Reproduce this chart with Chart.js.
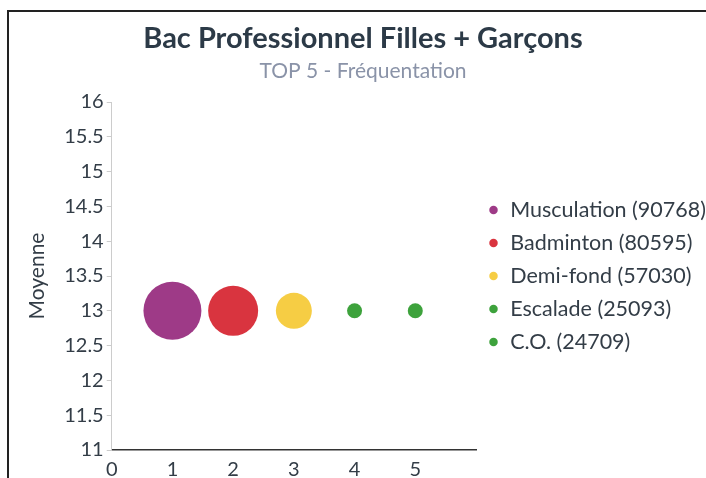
<!DOCTYPE html>
<html lang="fr">
<head>
  <meta charset="UTF-8" />
  <title>Bac Professionnel Filles + Garçons</title>
  <script src="https://cdn.jsdelivr.net/npm/chart.js"></script>
  <style>
    html, body {
      margin: 0;
      padding: 0;
      background: #fff;
      overflow: hidden;
    }
    #cadre {
      position: absolute;
      left: 7px;
      top: 10px;
      width: 710px;
      height: 480px;
      border-top: 2px solid #222;
      border-left: 2px solid #222;
    }
    #zone {
      position: absolute;
      left: 20px;
      top: 12px;
      width: 686px;
      height: 478px;
    }
  </style>
</head>
<body>
  <div id="cadre"></div>
  <div id="zone"><canvas id="graphique"></canvas></div>

  <script>
    // activités du top 5 (fréquentation)
    const activites = ["Musculation", "Badminton", "Demi-fond", "Escalade", "C.O."];
    const effectifs = [90768, 80595, 57030, 25093, 24709];
    const positions = [1, 2, 3, 4, 5];
    const moyennes = [13, 13, 13, 13, 13];
    const rayons = [29, 25, 18, 7.5, 7.5];
    const couleurs = ["#9e3a87", "#d9343f", "#f6cd44", "#3da23c", "#3da23c"];

    const texte = "#333d47";
    Chart.defaults.font.family = "Lato, 'Open Sans', sans-serif";

    const datasets = activites.map((nom, i) => ({
      label: `${nom} (${effectifs[i]})`,
      data: [{ x: positions[i], y: moyennes[i], r: rayons[i] }],
      backgroundColor: couleurs[i],
      borderColor: couleurs[i],
      borderWidth: 0,
      hoverRadius: 0
    }));

    new Chart(document.getElementById("graphique"), {
      type: "bubble",
      data: { datasets },
      options: {
        responsive: true,
        maintainAspectRatio: false,
        animation: false,
        scales: {
          x: {
            type: "linear",
            min: 0,
            max: 6,
            grid: { display: false, drawTicks: false },
            border: { color: "#333", width: 1.5 },
            ticks: {
              stepSize: 1,
              color: texte,
              font: { size: 20 },
              padding: 8,
              callback: v => (v === 6 ? "" : v)
            }
          },
          y: {
            min: 11,
            max: 16,
            grid: { drawOnChartArea: false, drawTicks: true, tickLength: 5, color: "#ccc" },
            border: { color: "#ccc", width: 1 },
            ticks: {
              stepSize: 0.5,
              color: texte,
              font: { size: 20 },
              padding: 3,
              callback: v => v
            },
            title: {
              display: true,
              text: "Moyenne",
              color: texte,
              font: { size: 21 },
              padding: { top: 5, bottom: 11 }
            }
          }
        },
        plugins: {
          title: {
            display: true,
            text: "Bac Professionnel Filles + Garçons",
            color: "#2c3a47",
            font: { size: 29, weight: "bold" },
            padding: { top: 9, bottom: 3 }
          },
          subtitle: {
            display: true,
            text: "TOP 5 - Fréquentation",
            color: "#8a93a8",
            font: { size: 21 },
            padding: { bottom: 18 }
          },
          legend: {
            position: "right",
            fullSize: false,
            maxWidth: 230,
            labels: {
              usePointStyle: true,
              pointStyle: "circle",
              boxWidth: 12,
              boxHeight: 6,
              padding: 11.5,
              color: texte,
              font: { size: 21.5 }
            }
          },
          tooltip: { enabled: false }
        }
      }
    });
  </script>
</body>
</html>
